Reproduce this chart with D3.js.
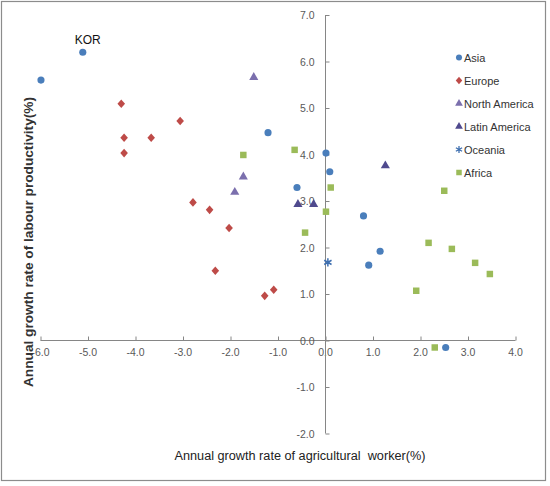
<!DOCTYPE html>
<html><head><meta charset="utf-8">
<script src="https://cdn.jsdelivr.net/npm/d3@7"></script>
<style>body{margin:0;background:#fff}svg{display:block}</style>
</head><body>
<script>
const seriesNames = ["Asia","Europe","North America","Latin America","Oceania","Africa"];
const asiaX = [-5.99,-5.11,-1.21,-0.60,0.01,0.09,0.80,0.91,1.15,2.53];
const asiaY = [5.60,6.20,4.47,3.29,4.03,3.63,2.68,1.62,1.92,-0.15];
const europeX = [-4.30,-3.06,-4.24,-3.67,-4.24,-2.79,-2.44,-2.03,-2.32,-1.28,-1.09];
const europeY = [5.09,4.72,4.36,4.36,4.03,2.97,2.81,2.42,1.50,0.96,1.09];
const northAmX = [-1.51,-1.73,-1.91];
const northAmY = [5.66,3.52,3.19];
const latinAmX = [-0.58,-0.25,1.26];
const latinAmY = [2.93,2.93,3.76];
const oceaniaX = [0.05];
const oceaniaY = [1.68];
const africaX = [-1.73,-0.65,-0.43,0.11,0.01,1.91,2.17,2.50,2.66,3.15,3.46,2.30];
const africaY = [3.99,4.10,2.32,3.29,2.77,1.07,2.10,3.22,1.97,1.67,1.43,-0.15];
const xTicks = [-6,-5,-4,-3,-2,-1,0,1,2,3,4];
const yTicks = [-2,-1,0,1,2,3,4,5,6,7];
const korLabel = {name:"KOR", x:-5.11, y:6.20};

const W=550,H=486;
const svg=d3.select("body").append("svg").attr("width",W).attr("height",H);
svg.append("rect").attr("x",1.5).attr("y",1.5).attr("width",544).attr("height",479)
  .attr("fill","#fff").attr("stroke","#8c8c8c").attr("stroke-width",1.2);

const x=d3.scaleLinear().domain([-6,4]).range([40.5,515.5]);
const y=d3.scaleLinear().domain([-2,7]).range([433.5,15]);
const font="'Liberation Sans', Arial, sans-serif";
const axisCol="#868686", labCol="#595959";

// x axis at y=0
const gx=svg.append("g").attr("transform",`translate(0,${y(0)})`);
gx.append("line").attr("x1",x(-6)).attr("x2",x(4)).attr("stroke",axisCol);
gx.selectAll("line.t").data(xTicks).join("line").attr("class","t")
  .attr("x1",d=>x(d)+0.5).attr("x2",d=>x(d)+0.5).attr("y1",0).attr("y2",-4).attr("stroke",axisCol);
gx.selectAll("text").data(xTicks).join("text")
  .attr("x",d=>x(d)).attr("y",15).attr("text-anchor","middle")
  .attr("font-family",font).attr("font-size",10.5).attr("fill",labCol)
  .text(d=>d3.format(".1f")(d).replace("−","-"));

// y axis at x=0
const gy=svg.append("g").attr("transform",`translate(${x(0)},0)`);
gy.append("line").attr("y1",y(7)).attr("y2",y(-2)).attr("stroke",axisCol);
gy.selectAll("line.t").data(yTicks).join("line").attr("class","t")
  .attr("y1",d=>y(d)+0.5).attr("y2",d=>y(d)+0.5).attr("x1",0).attr("x2",4).attr("stroke",axisCol);
gy.selectAll("text").data(yTicks).join("text")
  .attr("x",-11).attr("y",d=>y(d)+4).attr("text-anchor","end")
  .attr("font-family",font).attr("font-size",10.5).attr("fill",labCol)
  .text(d=>d3.format(".1f")(d).replace("−","-"));

// titles
svg.append("text").attr("x",300).attr("y",460).attr("text-anchor","middle")
  .attr("font-family",font).attr("font-size",12.5).attr("fill","#222")
  .style("white-space","pre").attr("textLength",251).attr("lengthAdjust","spacingAndGlyphs")
  .text("Annual growth rate of agricultural  worker(%)");
svg.append("text").attr("transform","translate(33,242) rotate(-90)").attr("text-anchor","middle")
  .attr("font-family",font).attr("font-size",13).attr("font-weight","bold").attr("fill","#333")
  .attr("textLength",290).attr("lengthAdjust","spacingAndGlyphs")
  .text("Annual growth rate of labour productivity(%)");

const colors={"Asia":"#4a7ebb","Europe":"#be4b48","North America":"#7b6fad","Latin America":"#4f4a8e","Oceania":"#3e6fb0","Africa":"#9bbb59"};
const seriesData=[
  ["Asia",asiaX,asiaY],["Europe",europeX,europeY],["North America",northAmX,northAmY],
  ["Latin America",latinAmX,latinAmY],["Oceania",oceaniaX,oceaniaY],["Africa",africaX,africaY]];
const diamond={draw(ctx,size){const w=3.8,h=4.3;ctx.moveTo(0,-h);ctx.lineTo(w,0);ctx.lineTo(0,h);ctx.lineTo(-w,0);ctx.closePath();}};
const sym={"Asia":d3.symbol(d3.symbolCircle,40),"Europe":d3.symbol(diamond,34),
  "North America":d3.symbol(d3.symbolTriangle,36),"Latin America":d3.symbol(d3.symbolTriangle,36),
  "Oceania":d3.symbol(d3.symbolAsterisk,50),"Africa":d3.symbol(d3.symbolSquare,42)};
function drawMarker(g,name,px,py,scale){
  const p=g.append("path").attr("d",sym[name]()).attr("transform",`translate(${px},${py}) scale(${scale||1})`);
  if(name==="Oceania") p.attr("fill","none").attr("stroke",colors[name]).attr("stroke-width",1.5);
  else p.attr("fill",colors[name]);
}
const gp=svg.append("g");
seriesData.forEach(([name,xs,ys])=>{
  xs.forEach((v,i)=>drawMarker(gp,name,x(v),y(ys[i])));
});
svg.append("text").attr("x",x(korLabel.x)+5).attr("y",y(korLabel.y)-8).attr("text-anchor","middle")
  .attr("font-family",font).attr("font-size",12).attr("fill","#111").text(korLabel.name);

// legend
const lg=svg.append("g");
seriesNames.forEach((n,i)=>{
  const ly=57.5+i*23;
  drawMarker(lg,n,459,ly,0.85);
  lg.append("text").attr("x",464).attr("y",ly+4).attr("font-family",font).attr("font-size",11)
    .attr("fill","#333").text(n);
});
</script>
</body></html>
